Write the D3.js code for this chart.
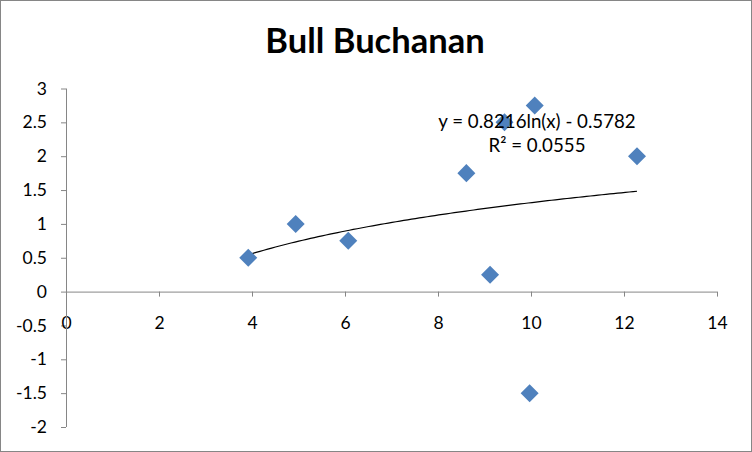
<!DOCTYPE html>
<html><head><meta charset="utf-8">
<script src="https://cdn.jsdelivr.net/npm/d3@7"></script>
<style>body{margin:0;background:#fff}svg{display:block}text{font-family:Lato,"Open Sans",sans-serif}</style>
</head><body><svg id="c" width="752" height="452"></svg>
<script>
const title = "Bull Buchanan";
const xValues = [3.92, 4.94, 6.07, 8.61, 9.12, 9.43, 10.08, 9.97, 12.28];
const yValues = [0.5, 1.0, 0.75, 1.75, 0.25, 2.5, 2.75, -1.5, 2.0];
const xTicks = [0, 2, 4, 6, 8, 10, 12, 14];
const yTicks = [3, 2.5, 2, 1.5, 1, 0.5, 0, -0.5, -1, -1.5, -2];
const trendA = 0.8216, trendB = -0.5782;
const eqLabel = "y = 0.8216ln(x) - 0.5782";
const r2Label = "R² = 0.0555";

const svg = d3.select("#c");
const axisColor = "#868686";
svg.append("rect").attr("x",0.5).attr("y",0.5).attr("width",751).attr("height",451)
  .attr("fill","#fff").attr("stroke",axisColor).attr("stroke-width",1);

const x = d3.scaleLinear().domain([0,14]).range([66,717]);
const y = d3.scaleLinear().domain([-2,3]).range([427,88.5]);

svg.append("text").attr("x",375).attr("y",53).attr("text-anchor","middle")
  .attr("font-size",34.5).attr("font-weight","bold").attr("fill","#000").text(title);

const yAxis = svg.append("g").attr("transform",`translate(${x(0)},0)`)
  .call(d3.axisLeft(y).tickValues(yTicks).tickSize(5).tickPadding(14).tickFormat(d=>String(d)));
const xAxis = svg.append("g").attr("transform",`translate(0,${y(0)})`)
  .call(d3.axisBottom(x).tickValues(xTicks).tickSize(5).tickPadding(20).tickFormat(d=>String(d)));
[yAxis,xAxis].forEach(g=>{
  g.select(".domain").remove();
  g.selectAll(".tick line").attr("stroke",axisColor);
  g.selectAll("text").attr("font-size",17.5).attr("fill","#000").style("font-family","Lato,'Open Sans',sans-serif");
});
svg.append("line").attr("x1",x(0)+0.5).attr("x2",x(0)+0.5).attr("y1",y(3)).attr("y2",y(-2)).attr("stroke",axisColor);
svg.append("line").attr("x1",x(0)).attr("x2",x(14)).attr("y1",y(0)+0.5).attr("y2",y(0)+0.5).attr("stroke",axisColor);

// trendline
const xmin = d3.min(xValues), xmax = d3.max(xValues);
const tpts = d3.range(0,101).map(i=>{const xv = xmin + (xmax-xmin)*i/100; return [xv, trendA*Math.log(xv)+trendB];});
svg.append("path").attr("d", d3.line().x(d=>x(d[0])).y(d=>y(d[1]))(tpts))
  .attr("fill","none").attr("stroke","#000").attr("stroke-width",1.2);

const sym = d3.symbol().type(d3.symbolSquare).size(162);
svg.append("g").selectAll("path").data(xValues.map((v,i)=>[v,yValues[i]])).join("path")
  .attr("d", sym).attr("transform", d=>`translate(${x(d[0])},${y(d[1])}) rotate(45)`)
  .attr("fill","#4F81BD");

svg.append("text").attr("x",537).attr("y",128).attr("text-anchor","middle").attr("font-size",18.7).attr("fill","#000").text(eqLabel);
svg.append("text").attr("x",537).attr("y",152).attr("text-anchor","middle").attr("font-size",18.7).attr("fill","#000").text(r2Label);
</script></body></html>
